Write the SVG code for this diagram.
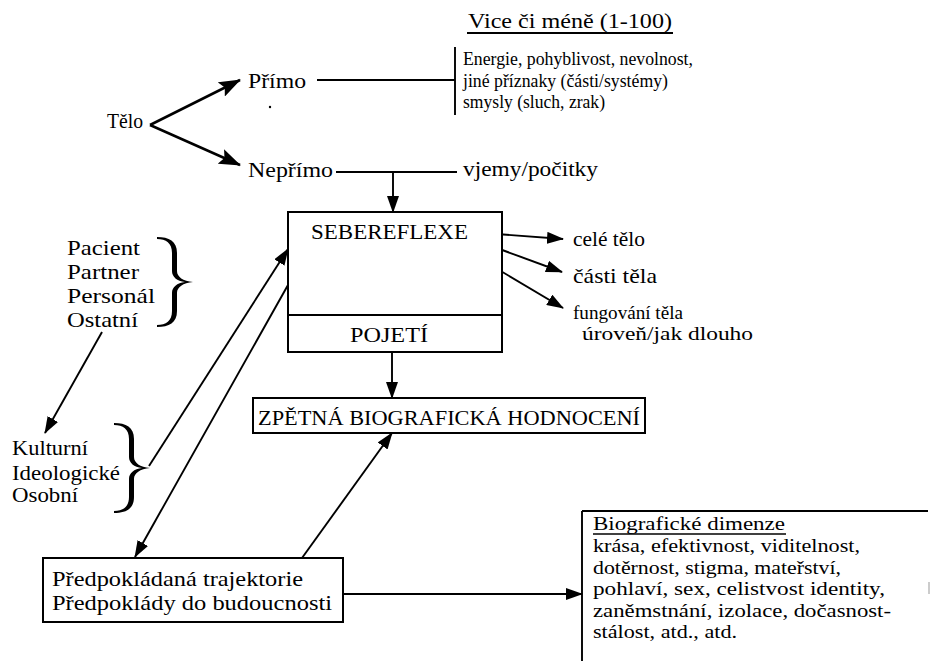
<svg xmlns="http://www.w3.org/2000/svg" width="933" height="661" viewBox="0 0 933 661" font-family="Liberation Serif, Times New Roman, serif">
<style>
text{font-family:"Liberation Serif","Times New Roman",serif;font-size:21px;fill:#000}
.s19{font-size:19px}
.s22{font-size:22px}
.ln{stroke:#000;stroke-width:1.9;fill:none}
.th{stroke:#000;stroke-width:2.6;fill:none}
.bx{stroke:#000;stroke-width:2;fill:#fff}
</style>
<defs>
<marker id="ah" markerWidth="17" markerHeight="12" refX="16" refY="6" orient="auto" markerUnits="userSpaceOnUse"><path d="M0,0 L17,6 L0,12 z" fill="#000"/></marker>
<marker id="ahL" markerWidth="22" markerHeight="16" refX="21" refY="8" orient="auto" markerUnits="userSpaceOnUse"><path d="M0,0 L22,8 L0,16 L4,8 z" fill="#000"/></marker>
<path id="brace" d="M0,0 C12,0 20,4 20,16 L20,34 C20,40 26,44 36,45 C26,46 20,50 20,56 L20,74 C20,86 12,90 0,90 L0,88 C9,88 15,84 15,74 L15,56 C15,50 20,46 28,45 C20,44 15,40 15,34 L15,16 C15,6 9,2 0,2 Z" fill="#000"/>
</defs>
<rect width="933" height="661" fill="#fff"/>

<g id="connectors">
<line class="th" x1="150" y1="125" x2="240" y2="80" marker-end="url(#ahL)"/>
<line class="th" x1="150" y1="125" x2="240" y2="165" marker-end="url(#ahL)"/>
<line class="ln" x1="317" y1="80" x2="455" y2="80"/>
<line class="ln" x1="455" y1="47" x2="455" y2="115"/>
<line class="ln" x1="336" y1="172" x2="457" y2="172"/>
<line class="ln" x1="393" y1="172" x2="393" y2="212" marker-end="url(#ah)"/>
<line class="ln" x1="483" y1="233" x2="563" y2="239" marker-end="url(#ah)"/>
<line class="ln" x1="475" y1="240" x2="562" y2="272" marker-end="url(#ah)"/>
<line class="ln" x1="462" y1="248" x2="563" y2="308" marker-end="url(#ah)"/>
<line class="ln" x1="392" y1="352" x2="392" y2="398" marker-end="url(#ah)"/>
<line class="ln" x1="102" y1="332" x2="45" y2="433" marker-end="url(#ah)"/>
<line class="ln" x1="149" y1="466" x2="288" y2="249" marker-end="url(#ah)"/>
<line class="ln" x1="288" y1="285" x2="135" y2="557" marker-end="url(#ah)"/>
<line class="ln" x1="302" y1="558" x2="392" y2="433" marker-end="url(#ah)"/>
<line class="ln" x1="343" y1="594" x2="582" y2="594" marker-end="url(#ah)"/>
</g>

<g id="telo"><text x="107" y="128" style="font-size:20px" textLength="36" lengthAdjust="spacingAndGlyphs">Tělo</text></g>
<g id="primo"><text class="s22" x="248" y="88" textLength="58" lengthAdjust="spacingAndGlyphs">Přímo</text><circle cx="270" cy="107" r="1.2" fill="#000"/></g>
<g id="neprimo"><text class="s22" x="248" y="177" textLength="85" lengthAdjust="spacingAndGlyphs">Nepřímo</text></g>
<g id="vice">
<text class="s22" x="468" y="28" textLength="204" lengthAdjust="spacingAndGlyphs">Vice či méně (1-100)</text>
<line class="ln" x1="467" y1="33" x2="673" y2="33"/>
<text class="s19" x="463" y="65" textLength="230" lengthAdjust="spacingAndGlyphs">Energie, pohyblivost, nevolnost,</text>
<text class="s19" x="463" y="87" textLength="205" lengthAdjust="spacingAndGlyphs">jiné příznaky (části/systémy)</text>
<text class="s19" x="463" y="108" textLength="142" lengthAdjust="spacingAndGlyphs">smysly (sluch, zrak)</text>
</g>
<g id="vjemy"><text x="463" y="176" textLength="135" lengthAdjust="spacingAndGlyphs">vjemy/počitky</text></g>

<g id="sebereflexe">
<rect class="bx" x="288" y="212" width="214" height="140"/>
<line class="ln" x1="288" y1="315" x2="502" y2="315"/>
<text x="311" y="239" textLength="157" lengthAdjust="spacingAndGlyphs">SEBEREFLEXE</text>
<text x="350" y="342" textLength="78" lengthAdjust="spacingAndGlyphs">POJETÍ</text>
</g>

<g id="cele"><text x="573" y="246" textLength="72" lengthAdjust="spacingAndGlyphs">celé tělo</text></g>
<g id="casti"><text x="573" y="283" textLength="84" lengthAdjust="spacingAndGlyphs">části těla</text></g>
<g id="fungovani"><text class="s19" x="573" y="319" textLength="110" lengthAdjust="spacingAndGlyphs">fungování těla</text><text class="s19" x="582" y="340" textLength="171" lengthAdjust="spacingAndGlyphs">úroveň/jak dlouho</text></g>

<g id="osoby">
<text x="67" y="255" textLength="73" lengthAdjust="spacingAndGlyphs">Pacient</text>
<text x="67" y="279" textLength="72" lengthAdjust="spacingAndGlyphs">Partner</text>
<text x="67" y="303" textLength="88" lengthAdjust="spacingAndGlyphs">Personál</text>
<text x="67" y="327" textLength="71" lengthAdjust="spacingAndGlyphs">Ostatní</text>
<use href="#brace" x="157" y="237"/>
</g>

<g id="kultura">
<text x="12" y="455" textLength="76" lengthAdjust="spacingAndGlyphs">Kulturní</text>
<text x="12" y="480" textLength="108" lengthAdjust="spacingAndGlyphs">Ideologické</text>
<text x="12" y="502" textLength="66" lengthAdjust="spacingAndGlyphs">Osobní</text>
<use href="#brace" x="114" y="423"/>
</g>

<g id="zpetna">
<rect class="bx" x="253" y="398" width="392" height="35"/>
<text x="258" y="425" textLength="382" lengthAdjust="spacingAndGlyphs">ZPĚTNÁ BIOGRAFICKÁ HODNOCENÍ</text>
</g>

<g id="predpoklady">
<rect class="bx" x="43" y="558" width="300" height="64"/>
<text x="52" y="586" textLength="251" lengthAdjust="spacingAndGlyphs">Předpokládaná trajektorie</text>
<text x="52" y="610" textLength="280" lengthAdjust="spacingAndGlyphs">Předpoklády do budoucnosti</text>
</g>

<g id="dimenze">
<line class="ln" x1="582" y1="511" x2="928" y2="511"/>
<line class="ln" x1="582" y1="511" x2="582" y2="661"/>
<text class="s19" x="593" y="530" textLength="192" lengthAdjust="spacingAndGlyphs">Biografické dimenze</text>
<line stroke="#000" stroke-width="1.4" x1="593" y1="534" x2="786" y2="534"/>
<text class="s19" x="593" y="552" textLength="267" lengthAdjust="spacingAndGlyphs">krása, efektivnost, viditelnost,</text>
<text class="s19" x="593" y="574" textLength="248" lengthAdjust="spacingAndGlyphs">dotěrnost, stigma, mateřství,</text>
<text class="s19" x="593" y="595" textLength="292" lengthAdjust="spacingAndGlyphs">pohlaví, sex, celistvost identity,</text>
<text class="s19" x="593" y="617" textLength="298" lengthAdjust="spacingAndGlyphs">zaněmstnání, izolace, dočasnost-</text>
<text class="s19" x="593" y="638" textLength="144" lengthAdjust="spacingAndGlyphs">stálost, atd., atd.</text>
<line stroke="#bbb" stroke-width="1.5" x1="929" y1="582" x2="929" y2="594"/>
</g>
</svg>
